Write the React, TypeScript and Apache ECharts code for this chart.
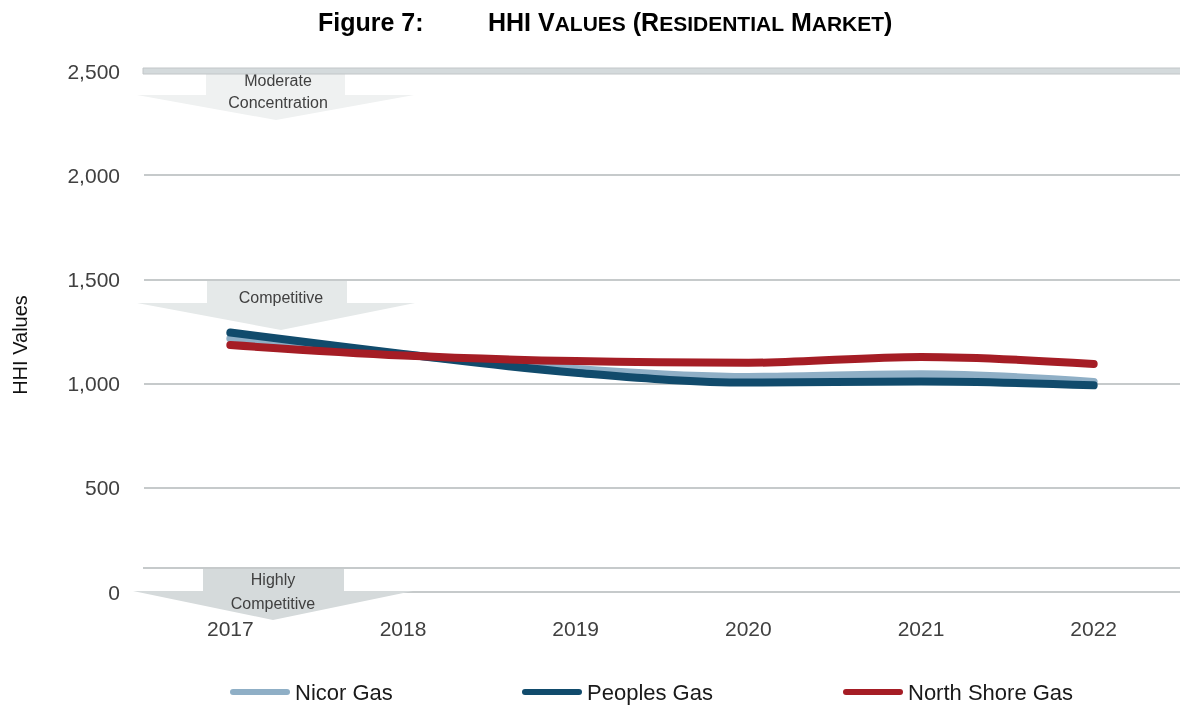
import React, { useEffect, useRef } from "react";
import * as echarts from "echarts";

const years = ["2017", "2018", "2019", "2020", "2021", "2022"];
const nicorGas = [1216, 1140, 1070, 1032, 1045, 1008];
const peoplesGas = [1245, 1142, 1052, 1005, 1010, 992];
const northShoreGas = [1185, 1135, 1108, 1100, 1128, 1094];
const yTicks = [0, 500, 1000, 1500, 2000, 2500];

const FONT = "'Liberation Sans', Arial, sans-serif";
const TEXT = "#404040";

const lineIcon = "path://M3,0 L57,0 A3,3 0 0 1 57,6 L3,6 A3,3 0 0 1 3,0 Z";

function arrow(
  stemL: number, stemR: number, top: number, headY: number,
  headL: number, headR: number, apexX: number, apexY: number, fill: string
) {
  return {
    type: "polygon",
    z: 1,
    shape: {
      points: [
        [stemL, top], [stemR, top], [stemR, headY], [headR, headY],
        [apexX, apexY], [headL, headY], [stemL, headY],
      ],
    },
    style: { fill },
  };
}

function label(text: string, x: number, y: number) {
  return {
    type: "text",
    z: 2,
    x, y,
    style: {
      text, fill: TEXT, font: `16px ${FONT}`, textAlign: "center", textVerticalAlign: "middle",
    },
  };
}

export default function App() {
  const ref = useRef<HTMLDivElement>(null);
  useEffect(() => {
    const chart = echarts.init(ref.current!, null, { renderer: "svg" });
    const lineSeries = (name: string, data: number[], color: string) => ({
      name,
      type: "line",
      data,
      smooth: 0.35,
      symbol: "none",
      lineStyle: { color, width: 8, cap: "round", join: "round" },
      itemStyle: { color },
      z: 5,
    });
    const legendBase = {
      top: 680,
      padding: 0,
      itemWidth: 60,
      itemHeight: 7,
      icon: lineIcon,
      textStyle: { fontFamily: FONT, fontSize: 22, color: "#1a1a1a", lineHeight: 24 },
    };
    chart.setOption({
      animation: false,
      grid: { left: 144, right: -4, top: 71, bottom: 114, containLabel: false },
      xAxis: {
        type: "category",
        data: years,
        boundaryGap: true,
        axisLine: { show: false },
        axisTick: { show: false },
        axisLabel: { color: TEXT, fontFamily: FONT, fontSize: 21, margin: 26 },
      },
      yAxis: {
        type: "value",
        min: 0,
        max: 2500,
        interval: 500,
        axisLine: { show: false },
        axisTick: { show: false },
        axisLabel: {
          color: TEXT, fontFamily: FONT, fontSize: 21, margin: 24,
          formatter: (v: number) => (yTicks.includes(v) ? v.toLocaleString("en-US") : ""),
        },
        splitLine: { lineStyle: { color: "#c6cacb", width: 2 } },
      },
      legend: [
        { ...legendBase, left: 230, data: ["Nicor Gas"] },
        { ...legendBase, left: 522, data: ["Peoples Gas"] },
        { ...legendBase, left: 843, data: ["North Shore Gas"] },
      ],
      series: [
        lineSeries("Nicor Gas", nicorGas, "#8fafc6"),
        lineSeries("Peoples Gas", peoplesGas, "#114b6c"),
        lineSeries("North Shore Gas", northShoreGas, "#a51d25"),
      ],
      graphic: [
        {
          type: "text", left: 318, top: 9,
          style: { text: "Figure 7:", font: `bold 25px ${FONT}`, fill: "#000" },
        },
        {
          type: "text", left: 488, top: 9,
          style: {
            text: "{b|HHI V}{s|ALUES}{b| (R}{s|ESIDENTIAL}{b| M}{s|ARKET}{b|)}",
            rich: {
              b: { font: `bold 25px ${FONT}`, fill: "#000", verticalAlign: "bottom" },
              s: { font: `bold 21px ${FONT}`, fill: "#000", verticalAlign: "bottom" },
            },
          },
        },
        {
          type: "text", x: 20, y: 345, rotation: Math.PI / 2,
          style: {
            text: "HHI Values", font: `20px ${FONT}`, fill: "#111",
            textAlign: "center", textVerticalAlign: "middle",
          },
        },
        {
          type: "rect", z: 3,
          shape: { x: 143, y: 68, width: 1040, height: 6 },
          style: { fill: "#d4dadc", stroke: "#c2c6c8", lineWidth: 1 },
        },
        {
          type: "line", z: 0,
          shape: { x1: 143, y1: 568, x2: 1180, y2: 568 },
          style: { stroke: "#c6cacb", lineWidth: 2 },
        },
        arrow(206, 345, 74, 95, 137, 414, 276, 120, "#eff1f1"),
        arrow(207, 347, 281, 303, 137, 415, 281, 330, "#e5e9e9"),
        arrow(203, 344, 569, 591, 133, 413, 273, 620, "#d5dadb"),
        label("Moderate", 278, 80),
        label("Concentration", 278, 102),
        label("Competitive", 281, 297),
        label("Highly", 273, 579),
        label("Competitive", 273, 603),
      ],
    });
    return () => chart.dispose();
  }, []);
  return (
    <div
      ref={ref}
      style={{ position: "fixed", left: 0, top: 0, width: 1180, height: 706 }}
    />
  );
}
